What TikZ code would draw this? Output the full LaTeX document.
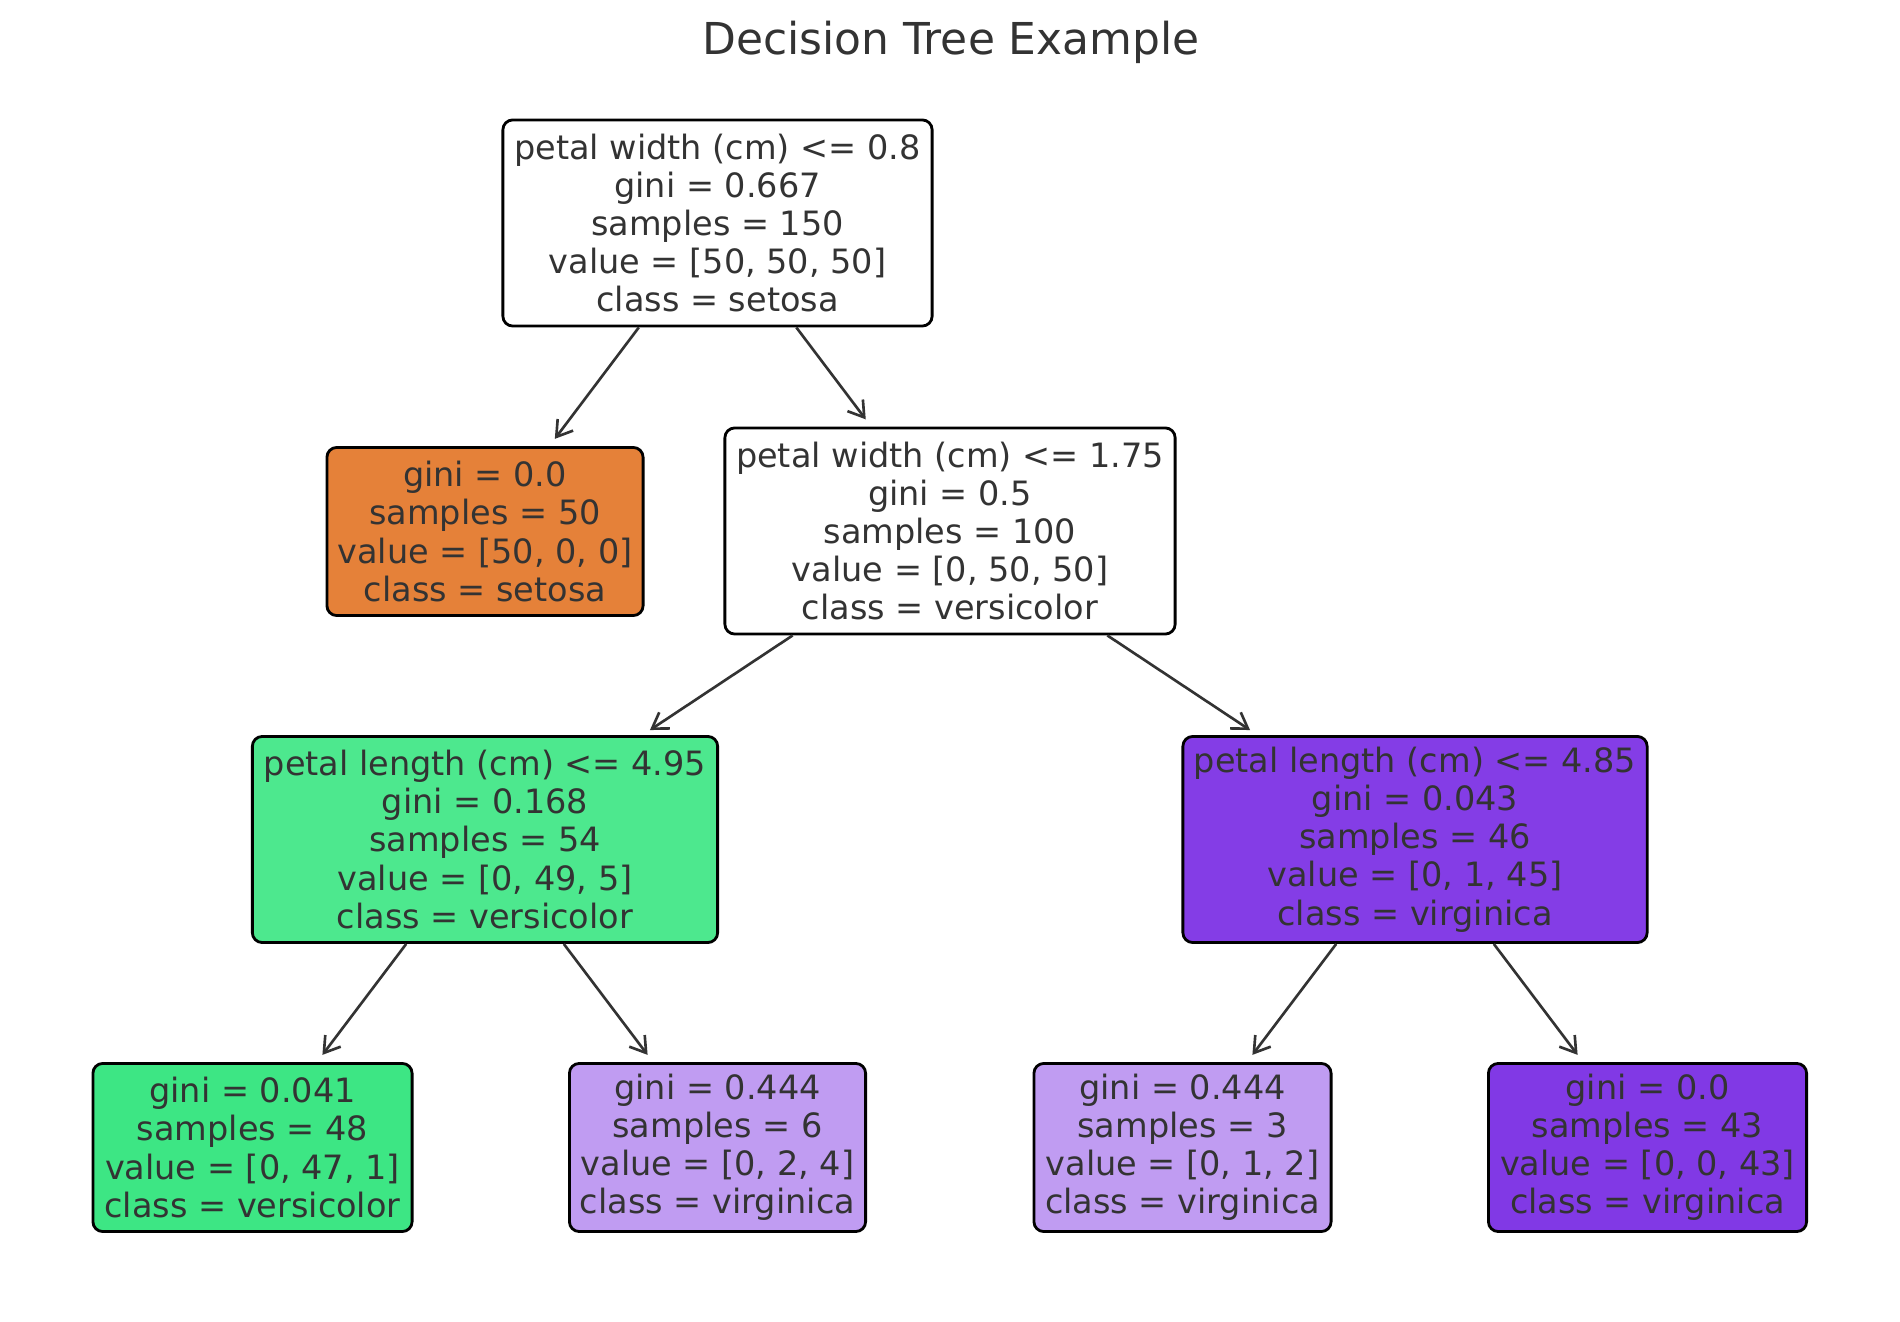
\documentclass[tikz,border=0pt]{standalone}
\usepackage{fontspec}
\setmainfont{DejaVu Sans}
\usetikzlibrary{arrows.meta}
\definecolor{txt}{HTML}{333333}
\definecolor{cset}{HTML}{E58139}
\definecolor{cverA}{HTML}{3DE684}
\definecolor{cverB}{HTML}{4DE88E}
\definecolor{cvirL}{HTML}{C09CF2}
\definecolor{cvirB}{HTML}{843DE6}
\definecolor{cvir}{HTML}{8139E5}
\begin{document}
\begin{tikzpicture}[x=0.01cm,y=-0.01cm,
  box/.style={draw=black, line width=0.8pt, rounded corners=2.8pt, align=center,
    text=txt, font=\fontsize{9.53pt}{10.85pt}\selectfont, inner xsep=2pt, inner ysep=0pt},
  splitbox/.style={box, minimum height=2.06cm},
  leafbox/.style={box, minimum height=1.68cm},
  edge/.style={draw=txt, line width=0.75pt,
    -{Straight Barb[length=4.3pt,width=5.5pt]}, shorten >=2.56pt}]
\useasboundingbox (0,0) rectangle (1900,1322);
\fill[white] (0,0) rectangle (1900,1322);

\node[anchor=base, text=txt, font=\fontsize{12.5pt}{15pt}\selectfont] (title) at (951,55) {Decision Tree Example};

\node[splitbox, fill=white, minimum width=4.29cm] (root) at (717.5,223)
  {petal width (cm) <= 0.8\\gini = 0.667\\samples = 150\\value = [50, 50, 50]\\class = setosa};
\node[leafbox, fill=cset, minimum width=3.16cm] (setosa) at (485,531.5)
  {gini = 0.0\\samples = 50\\value = [50, 0, 0]\\class = setosa};
\node[splitbox, fill=white, minimum width=4.5cm] (n2) at (950,531)
  {petal width (cm) <= 1.75\\gini = 0.5\\samples = 100\\value = [0, 50, 50]\\class = versicolor};
\node[splitbox, fill=cverB, minimum width=4.65cm] (n3) at (485,839.5)
  {petal length (cm) <= 4.95\\gini = 0.168\\samples = 54\\value = [0, 49, 5]\\class = versicolor};
\node[splitbox, fill=cvirB, minimum width=4.64cm] (n4) at (1415,839.5)
  {petal length (cm) <= 4.85\\gini = 0.043\\samples = 46\\value = [0, 1, 45]\\class = virginica};
\node[leafbox, fill=cverA, minimum width=3.19cm] (la) at (252.5,1147.5)
  {gini = 0.041\\samples = 48\\value = [0, 47, 1]\\class = versicolor};
\node[leafbox, fill=cvirL, minimum width=2.96cm] (lb) at (717.5,1147.5)
  {gini = 0.444\\samples = 6\\value = [0, 2, 4]\\class = virginica};
\node[leafbox, fill=cvirL, minimum width=2.97cm] (lc) at (1182.5,1147.5)
  {gini = 0.444\\samples = 3\\value = [0, 1, 2]\\class = virginica};
\node[leafbox, fill=cvir, minimum width=3.18cm] (ld) at (1647.5,1147.5)
  {gini = 0.0\\samples = 43\\value = [0, 0, 43]\\class = virginica};

\draw[edge] (root) -- (setosa);
\draw[edge] (root) -- (n2);
\draw[edge] (n2) -- (n3);
\draw[edge] (n2) -- (n4);
\draw[edge] (n3) -- (la);
\draw[edge] (n3) -- (lb);
\draw[edge] (n4) -- (lc);
\draw[edge] (n4) -- (ld);
\end{tikzpicture}
\end{document}
